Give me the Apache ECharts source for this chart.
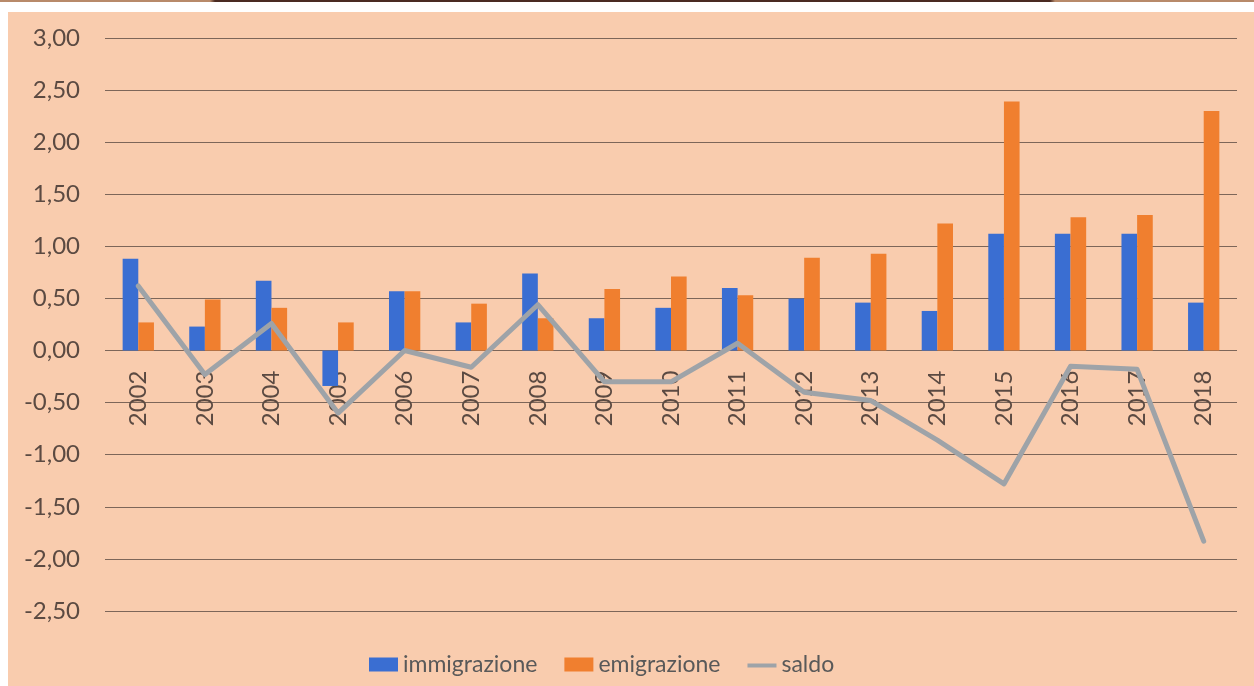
<!DOCTYPE html>
<html>
<head>
<meta charset="utf-8">
<script src="https://cdn.jsdelivr.net/npm/echarts@6/dist/echarts.min.js"></script>
<style>
  body { margin:0; background:#ffffff; }
  #topbar { position:absolute; left:0; top:0; width:1254px; height:2px;
    background:linear-gradient(to right,#b88a6a 0,#b88a6a 210px,#4a2a22 215px,#4a2a22 1050px,#b88a6a 1055px); }
  #panel { position:absolute; left:8px; top:12px; width:1246px; height:674px; background:#f9ccae; }
  #chart { position:absolute; left:0; top:0; width:1254px; height:686px; }
</style>
</head>
<body>
<div id="topbar"></div>
<div id="panel"></div>
<div id="chart"></div>
<script>
  // anni
  var years=['2002','2003','2004','2005','2006','2007','2008','2009','2010','2011','2012','2013','2014','2015','2016','2017','2018'];
  var immigrazione=[0.88,0.23,0.67,-0.34,0.57,0.27,0.74,0.31,0.41,0.60,0.50,0.46,0.38,1.12,1.12,1.12,0.46];
  var emigrazione=[0.27,0.49,0.41,0.27,0.57,0.45,0.31,0.59,0.71,0.53,0.89,0.93,1.22,2.39,1.28,1.30,2.30];
  var saldo=[0.62,-0.23,0.26,-0.60,0.00,-0.16,0.44,-0.30,-0.30,0.07,-0.40,-0.48,-0.86,-1.28,-0.15,-0.18,-1.83];

  var fontName='Lato';
  var textColor='#5b4a42';
  var gridColor='#7d6659';
  var yMin=-2.5, yMax=3;
  var gridTop=38, gridBottom=75, chartH=686;

  // sposta le etichette dell'asse x sullo zero
  var plotH=chartH-gridTop-gridBottom;
  var zeroOffset=-plotH*(0-yMin)/(yMax-yMin);

  var option={
    animation:false,
    backgroundColor:'transparent',
    textStyle:{fontFamily:fontName},
    grid:{left:105,right:17,top:gridTop,bottom:gridBottom},
    legend:{
      bottom:5,
      left:364,
      itemGap:27,
      itemWidth:29,
      itemHeight:14,
      textStyle:{fontFamily:fontName,fontSize:23,color:'#595959'},
      data:[
        {name:'immigrazione',icon:'rect'},
        {name:'emigrazione',icon:'rect'},
        {name:'saldo',icon:'path://M0,0L0,0M0,6L29,6L29,10L0,10ZM29,14L29,14'}
      ]
    },
    xAxis:{
      type:'category',
      data:years,
      offset:zeroOffset,
      axisLine:{show:false,onZero:false},
      axisTick:{show:false},
      axisLabel:{rotate:90,margin:20,fontSize:24,color:textColor,fontFamily:fontName,interval:0}
    },
    yAxis:{
      type:'value',
      min:yMin,
      max:yMax,
      interval:0.5,
      axisLine:{show:false},
      axisTick:{show:false},
      splitLine:{lineStyle:{color:gridColor,width:1}},
      axisLabel:{
        margin:25,
        fontSize:24,
        color:textColor,
        fontFamily:fontName,
        formatter:function(v){ return v.toFixed(2).replace('.',','); }
      }
    },
    series:[
      {
        name:'immigrazione',
        type:'bar',
        data:immigrazione,
        barGap:'0%',
        barCategoryGap:'53%',
        itemStyle:{color:'#3a6ed2'}
      },
      {
        name:'emigrazione',
        type:'bar',
        data:emigrazione,
        barGap:'0%',
        barCategoryGap:'53%',
        itemStyle:{color:'#f07f2f'}
      },
      {
        name:'saldo',
        type:'line',
        data:saldo,
        symbol:'none',
        itemStyle:{color:'#9ea3a8'},
        lineStyle:{color:'#9ea3a8',width:5,cap:'round',join:'round'}
      }
    ]
  };

  var chart=echarts.init(document.getElementById('chart'));
  chart.setOption(option);
</script>
</body>
</html>
